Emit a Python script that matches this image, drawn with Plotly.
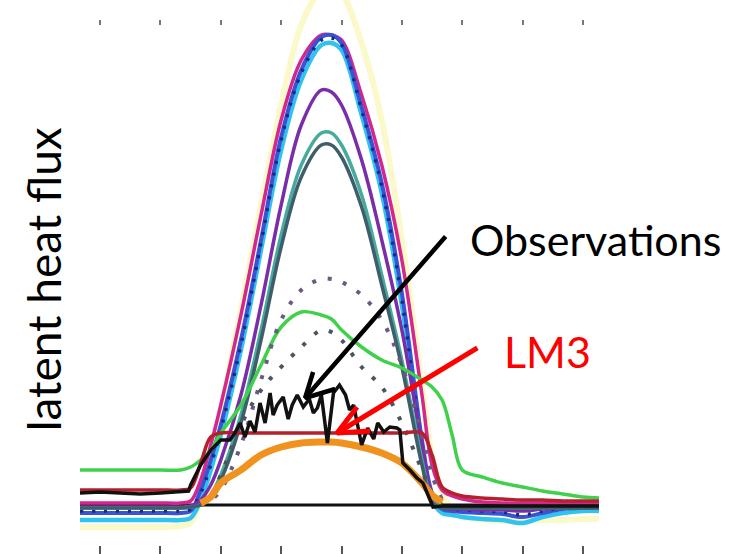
import plotly.graph_objects as go

# hours of day (model curves)
H = [-1, 0, 1, 2, 3, 4, 4.5, 5, 5.5, 6, 7, 8, 9, 10, 11, 11.5, 12, 13, 14, 15, 16, 16.5, 17, 17.5, 18, 19, 20, 21, 22, 23, 24, 24.8]

yellow  = [-22,-22,-22,-22,-22,-21,-18,5,45,95,196,300,400,480,515,518,512,462,385,265,120,48,12,-5,-12,-15,-16,-16,-15,-15,-14,-14]
magenta = [2,2,2,2,2,2,4,25,60,100,190,290,385,445,470,470,465,410,340,245,110,40,15,9,6,3,2,2,2,2,2,2]
cyan    = [-15,-15,-15,-15,-15,-15,-13,5,35,70,155,255,355,425,460,462,455,390,312,200,55,5,-8,-10,-12,-14,-15,-18,-12,-8,-6,-6]
blue    = [-8,-8,-8,-8,-8,-8,-6,15,45,80,165,265,368,435,468,470,462,398,322,212,65,12,-4,-6,-7,-8,-9,-12,-8,-4,-3,-3]
navy    = [-6,-6,-6,-6,-6,-6,-4,12,40,75,160,262,365,432,465,467,460,395,318,205,58,8,-3,-4,-5,-6,-7,-10,-6,-3,-2,-2]
purple  = [-2,-2,-2,-2,-2,-2,-1,5,20,45,110,200,300,380,415,413,400,345,265,175,60,10,-3,-4,-4,-5,-5,-6,-4,-3,-3,-3]
teal    = [-3,-3,-3,-3,-3,-3,-2,0,10,30,90,175,270,340,372,372,360,310,230,145,45,5,-3,-3,-3,-3,-3,-3,-3,-3,-3,-3]
slate   = [-3,-3,-3,-3,-3,-3,-2,0,8,25,82,165,258,328,360,360,348,298,220,138,40,3,-3,-3,-3,-3,-3,-3,-3,-3,-3,-3]
green   = [35,35,35,35,35,35,38,45,55,72,100,140,178,193,190,186,175,158,145,137,125,118,105,70,35,28,22,18,14,11,8,7]
lm3     = [15,15,15,15,15,15,17,42,68,72,72,72,72,72,72,72,72,72,72,72,72,50,18,12,9,7,6,5,5,4,4,4]
zero    = [0]*len(H)

# daytime-only curves
HD = [5, 5.5, 6, 7, 8, 9, 10, 11, 11.5, 12, 13, 14, 15, 16, 16.5, 17]
orange  = [2, 8, 22, 35, 50, 58, 62, 63, 63, 62, 58, 52, 42, 22, 10, 3]
dot_up  = [0, 5, 15, 60, 125, 185, 215, 226, 226, 223, 210, 185, 140, 70, 30, 5]
dot_lo  = [0, 10, 30, 80, 115, 138, 158, 175, 173, 165, 138, 118, 82, 35, 12, 0]

# observations
OBS_H = [-1, 0, 1, 2, 3, 4, 4.4, 4.5, 5, 5.5, 6, 6.45, 6.7, 6.96, 7.2, 7.45, 7.7, 7.95, 8.2, 8.45, 8.6, 8.8, 9.1, 9.35,
         9.55, 9.8, 10.1, 10.4, 10.6, 10.8, 11.0, 11.3, 11.6, 11.9, 12.2, 12.4, 12.6, 12.8, 13.0, 13.3, 13.6, 13.8,
         14.1, 14.4, 14.75, 14.9, 15.05, 15.4, 15.75, 16.05, 16.55, 17, 18, 19, 20, 21, 22, 23, 24, 24.8]
OBS_V = [12, 13, 12, 11, 12, 13, 14, 20, 40, 55, 65, 65, 72, 82, 68, 84, 73, 102, 82, 112, 90, 100, 108, 86,
         100, 110, 98, 106, 92, 97, 110, 62, 112, 120, 110, 95, 100, 80, 60, 77, 66, 82,
         73, 78, 77, 75, 42, 35, 27, 22, -2, -1, -1, -1, -1, -1, -1, -1, -1, -1]

XTICKS = [0, 3, 6, 9, 12, 15, 18, 21, 24]

# arrow tips (on the curves) and tails (at the labels), data units
OBS_TIP, OBS_TAIL = (10.19, 107), (17.24, 270)
LM3_TIP, LM3_TAIL = (11.78, 72), (18.83, 158)

fig = go.Figure()

def add(x, y, color, width, dash=None, shape="spline"):
    fig.add_trace(go.Scatter(x=x, y=y, mode="lines", showlegend=False, hoverinfo="skip",
                             line=dict(color=color, width=width, dash=dash, shape=shape)))

add(H, yellow, "rgba(242,236,80,0.3)", 6)
add(H, zero, "#111111", 3, shape="linear")
add(H, magenta, "#d4268c", 3.5)
add(H, cyan, "#30c3f0", 4.5)
add(H, blue, "#3a52d4", 4)
add(H, navy, "#1b2a80", 3.5, dash="3px,9px")
add(H, purple, "#7a2da8", 3.5)
add(H, teal, "#46aa9c", 3.5)
add(H, slate, "#3f5e6b", 3.5)
add(H, green, "#3fd14c", 3.5)
add(HD, dot_up, "#6a5a80", 4, dash="4px,12px")
add(HD, dot_lo, "#4a5560", 4, dash="4px,12px")
add(HD, orange, "#f0921e", 7)
add(H, lm3, "#b3222c", 3.5)
add(OBS_H, OBS_V, "#111111", 3.5, shape="linear")

# invisible trace so the top tick axis is drawn
fig.add_trace(go.Scatter(x=[None], y=[None], xaxis="x2", mode="lines", showlegend=False, hoverinfo="skip"))

fig.update_layout(
    width=731, height=554,
    margin=dict(l=80, r=131, t=0, b=0),
    paper_bgcolor="white", plot_bgcolor="white",
    font=dict(family="Lato", color="black"),
    xaxis=dict(range=[-1, 24.85], tickvals=XTICKS, showticklabels=False, ticks="inside",
               ticklen=8, tickwidth=1.5, tickcolor="#555", showgrid=False, zeroline=False, showline=False),
    xaxis2=dict(range=[-1, 24.85], tickvals=XTICKS, showticklabels=False, ticks="outside",
                ticklen=5, tickwidth=1.5, tickcolor="#777", showgrid=False, zeroline=False, showline=False,
                overlaying="x", anchor="free", position=0.955, side="top"),
    yaxis=dict(range=[-49, 505], showticklabels=False, ticks="", showgrid=False, zeroline=False, showline=False),
)

fig.add_annotation(text="latent heat flux", xref="paper", yref="paper", x=-0.07, y=0.495,
                   xanchor="center", yanchor="middle",
                   textangle=-90, showarrow=False, font=dict(family="Lato", size=46, color="black"))
fig.add_annotation(text="Observations", xref="paper", yref="paper", x=0.746, y=0.567,
                   xanchor="left", yanchor="middle",
                   showarrow=False, font=dict(family="Lato", size=43, color="black"))
fig.add_annotation(text="LM3", xref="paper", yref="paper", x=0.8115, y=0.365,
                   xanchor="left", yanchor="middle",
                   showarrow=False, font=dict(family="Lato", size=43, color="#ff0000"))

# arrows: shaft as annotation, open-V head as a short polyline hinged at the tip
PX_PER_HOUR = 520 / 25.85  # horizontal pixels per hour in the plot area

def arrow(tip, tail, color, width, arms):
    fig.add_annotation(x=tip[0], y=tip[1], ax=tail[0], ay=tail[1], xref="x", yref="y", axref="x", ayref="y",
                       text="", showarrow=True, arrowhead=0, arrowwidth=width, arrowcolor=color)
    (dx1, dy1), (dx2, dy2) = arms
    hx = [tip[0] + dx1 / PX_PER_HOUR, tip[0], tip[0] + dx2 / PX_PER_HOUR]
    hy = [tip[1] + dy1, tip[1], tip[1] + dy2]
    fig.add_trace(go.Scatter(x=hx, y=hy, mode="lines", showlegend=False, hoverinfo="skip",
                             line=dict(color=color, width=width)))

arrow(OBS_TIP, OBS_TAIL, "#000000", 4.5, [(30, 9), (8, 26)])
arrow(LM3_TIP, LM3_TAIL, "#ff0000", 5, [(33, 2), (20, 26)])

fig.write_html("out.html", config={"displayModeBar": False},
               post_script="document.body.style.margin='0';")
